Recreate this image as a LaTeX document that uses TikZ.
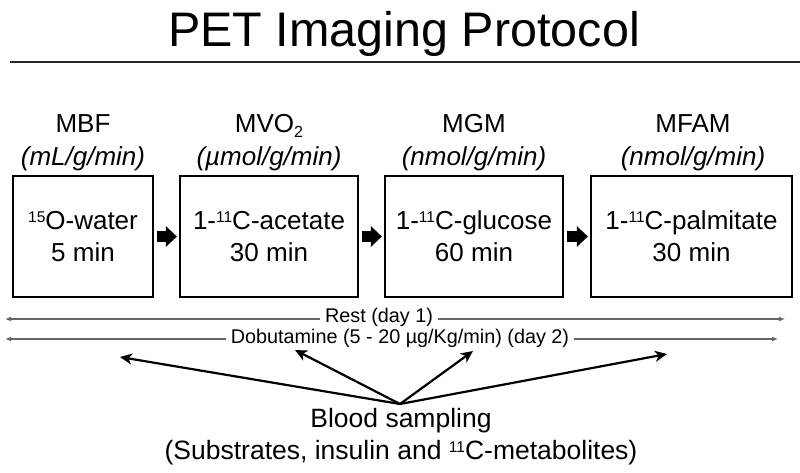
\documentclass[tikz,border=0pt]{standalone}
\usepackage{fontspec}
\setmainfont{Liberation Sans}
\usetikzlibrary{arrows.meta}
\newcommand{\mysup}[1]{\raisebox{7pt}{\fontsize{15.5}{15.5}\selectfont #1}}
\newcommand{\mysub}[1]{\raisebox{-5pt}{\fontsize{16}{16}\selectfont #1}}
\begin{document}
\begin{tikzpicture}[x=1pt,y=-1pt,
  stepbox/.style={draw=black, line width=2.2pt, align=center, inner sep=0pt,
    font=\fontsize{26}{32}\selectfont},
  lbl/.style={anchor=base, font=\fontsize{26}{32}\selectfont},
  ilbl/.style={anchor=base, font=\fontsize{26}{32}\selectfont\itshape},
  flow/.style={line width=10.5pt, -{Triangle[length=11pt 0 0,width=20pt 0 0]}},
  phase/.style={anchor=base, inner sep=5pt, font=\fontsize{19.8}{24}\selectfont},
  timeline/.style={draw=black!60, line width=1.4pt, -{Latex[length=6pt 0 0,width=5pt 0 0]}},
  sample/.style={line width=2.2pt, -{Stealth[length=12pt 0 0,width=11pt 0 0,inset=3.5pt 0 0]}},
  blood/.style={anchor=base, font=\fontsize{26.5}{32}\selectfont}]
\useasboundingbox (0,0) rectangle (800,473);
% title
\node[anchor=base, font=\fontsize{48.5}{58}\selectfont] (title) at (404,47) {PET Imaging Protocol};
\coordinate (hl) at (10,62);
\coordinate (hr) at (800,62);
\draw[black!85, line width=1.3pt] (hl) -- (hr);
% boxes
\node[stepbox, minimum width=140, minimum height=121] (b1) at (83,236.5)
  {\mysup{15}O-water\\5 min};
\node[stepbox, minimum width=178, minimum height=121] (b2) at (269,236.5)
  {1-\mysup{11}C-acetate\\30 min};
\node[stepbox, minimum width=178, minimum height=121] (b3) at (474,236.5)
  {1-\mysup{11}C-glucose\\60 min};
\node[stepbox, minimum width=201, minimum height=121] (b4) at (691.5,236.5)
  {1-\mysup{11}C-palmitate\\30 min};
% labels
\node[lbl] (l1) at (83,133) {MBF};
\node[ilbl] (u1) at (83,166) {(mL/g/min)};
\node[lbl] (l2) at (269,133) {MVO\mysub{2}};
\node[ilbl] (u2) at (269,166) {(µmol/g/min)};
\node[lbl] (l3) at (474,133) {MGM};
\node[ilbl] (u3) at (474,166) {(nmol/g/min)};
\node[lbl] (l4) at (693,133) {MFAM};
\node[ilbl] (u4) at (693,166) {(nmol/g/min)};
% block arrows
\draw[flow] ([xshift=3pt]b1.east) -- ([xshift=-2pt]b2.west);
\draw[flow] ([xshift=3pt]b2.east) -- ([xshift=-2pt]b3.west);
\draw[flow] ([xshift=3pt]b3.east) -- ([xshift=-2pt]b4.west);
% timelines
\node[phase] (rest) at (379,322) {Rest (day 1)};
\coordinate (restL) at (5,319);
\coordinate (restR) at (785,319);
\draw[timeline] ([yshift=3pt]rest.base west) -- (restL);
\draw[timeline] ([yshift=3pt]rest.base east) -- (restR);
\node[phase] (dob) at (400,343) {Dobutamine (5 - 20 µg/Kg/min) (day 2)};
\coordinate (dobL) at (5,339);
\coordinate (dobR) at (778,339);
\draw[timeline] ([yshift=4pt]dob.base west) -- (dobL);
\draw[timeline] ([yshift=4pt]dob.base east) -- (dobR);
% blood sampling
\node[blood] (bs1) at (401,427) {Blood sampling};
\node[blood] (bs2) at (401,459) {(Substrates, insulin and \mysup{11}C-metabolites)};
\coordinate (apex) at (400,404);
\coordinate (t1) at (120,357);
\coordinate (t2) at (295,350);
\coordinate (t3) at (473,351);
\coordinate (t4) at (667,354);
\draw[sample] (apex) -- (t1);
\draw[sample] (apex) -- (t2);
\draw[sample] (apex) -- (t3);
\draw[sample] (apex) -- (t4);
\end{tikzpicture}
\end{document}
